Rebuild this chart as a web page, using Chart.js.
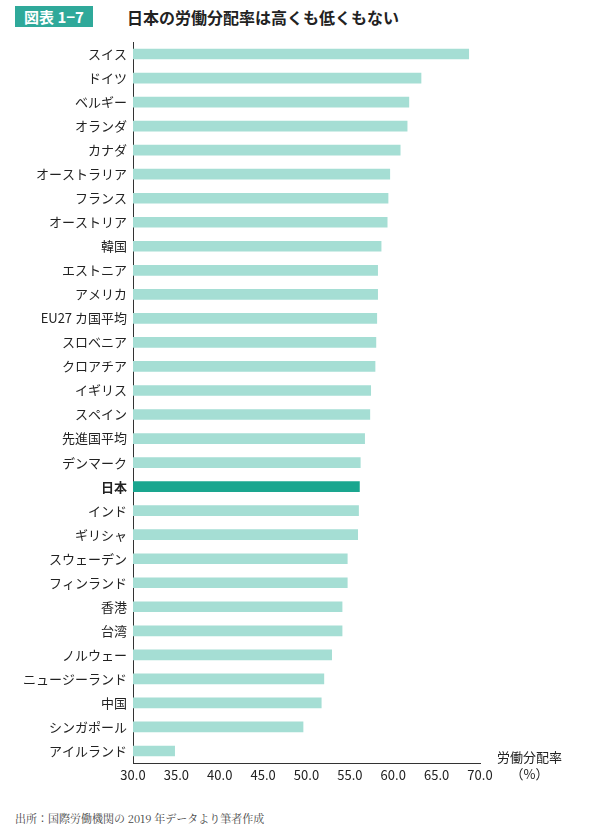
<!DOCTYPE html>
<html><head><meta charset="utf-8">
<script src="https://cdn.jsdelivr.net/npm/chart.js"></script>
<style>
body{margin:0;width:589px;height:838px;background:#fff;font-family:"Noto Sans CJK JP",sans-serif;position:relative;overflow:hidden}
#tag{position:absolute;left:15px;top:6px;width:78px;height:21px;background:#2fa99a;color:#fff;font-size:15px;line-height:21px;text-align:center;font-weight:bold}
#title{position:absolute;left:127px;top:5px;font-size:16px;font-weight:bold;color:#222}
#wrap{position:absolute;left:0;top:0;width:589px;height:790px}
#unit{position:absolute;left:497px;top:748px;font-size:13px;color:#222;line-height:17px;text-align:center}
#src{position:absolute;left:15px;top:810px;font-size:11px;color:#444;font-family:"Noto Serif CJK JP","Noto Sans CJK JP",serif}
</style></head><body>
<div id="tag">図表 1−7</div>
<div id="title">日本の労働分配率は高くも低くもない</div>
<div id="wrap"><canvas id="c"></canvas></div>
<div id="unit">労働分配率<br>（%）</div>
<div id="src">出所：国際労働機関の 2019 年データより筆者作成</div>
<script>
// country names, top to bottom
const countries = ['スイス','ドイツ','ベルギー','オランダ','カナダ','オーストラリア','フランス','オーストリア','韓国','エストニア','アメリカ','EU27 カ国平均','スロベニア','クロアチア','イギリス','スペイン','先進国平均','デンマーク','日本','インド','ギリシャ','スウェーデン','フィンランド','香港','台湾','ノルウェー','ニュージーランド','中国','シンガポール','アイルランド'];
// labour share (%)
const laborShare = [68.7,63.2,61.8,61.6,60.8,59.6,59.4,59.3,58.6,58.2,58.2,58.1,58.0,57.9,57.4,57.3,56.7,56.2,56.1,56.0,55.9,54.7,54.7,54.1,54.1,52.9,52.0,51.7,49.6,34.8];
const highlight = '日本';

const colors = countries.map(c => c === highlight ? '#1aa68f' : '#a5ded4');

new Chart(document.getElementById('c'), {
  type: 'bar',
  data: {
    labels: countries,
    datasets: [{ data: laborShare, backgroundColor: colors, barThickness: 10 }]
  },
  options: {
    indexAxis: 'y',
    responsive: true,
    maintainAspectRatio: false,
    animation: false,
    layout: { padding: { top: 42, right: 109, bottom: 2, left: 0 } },
    plugins: { legend: { display: false }, tooltip: { enabled: false } },
    scales: {
      x: {
        min: 30, max: 70,
        afterFit: s => { s.height = 25; },
        grid: { display: false, drawTicks: false },
        border: { color: '#333', width: 1 },
        ticks: {
          stepSize: 5, color: '#222', padding: 4,
          font: { family: 'Noto Sans CJK JP', size: 13 },
          callback: v => v.toFixed(1)
        }
      },
      y: {
        afterFit: s => { s.width = 133; },
        grid: { display: false, drawTicks: false },
        border: { color: '#333', width: 1 },
        ticks: {
          color: '#222', padding: 6,
          font: ctx => ({ family: 'Noto Sans CJK JP', size: 13, weight: countries[ctx.index] === highlight ? 'bold' : 'normal' })
        }
      }
    }
  }
});
</script>
</body></html>
